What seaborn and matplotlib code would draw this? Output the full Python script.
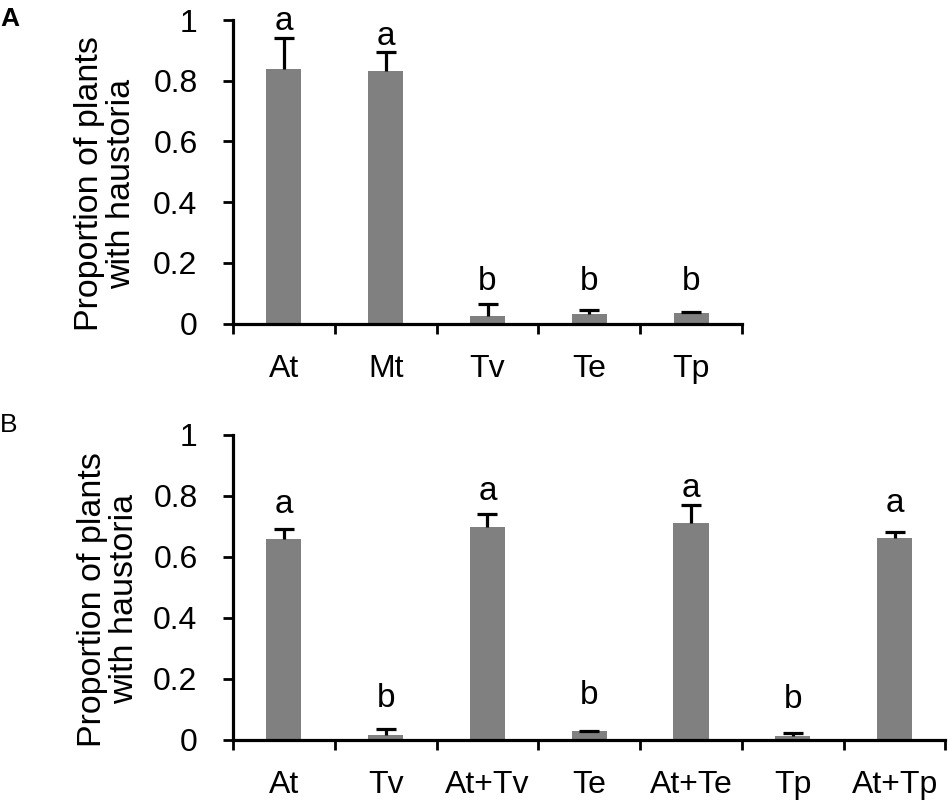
import numpy as np
import pandas as pd
import matplotlib
matplotlib.use("Agg")
import matplotlib.pyplot as plt
import seaborn as sns
from matplotlib.ticker import FixedLocator, FixedFormatter

sns.set_style("ticks")
plt.rcParams['font.family'] = ['Liberation Sans', 'DejaVu Sans']
plt.rcParams.update({"text.color": "black", "axes.labelcolor": "black",
                     "xtick.color": "black", "ytick.color": "black",
                     "axes.edgecolor": "black"})

# ---- data ----
cats_a = ["At", "Mt", "Tv", "Te", "Tp"]
vals_a = [0.84, 0.832, 0.026, 0.030, 0.033]
errtop_a = [0.94, 0.893, 0.063, 0.043, 0.037]
letters_a = ["a", "a", "b", "b", "b"]
letter_y_a = [0.967, 0.917, 0.112, 0.112, 0.112]

cats_b = ["At", "Tv", "At+Tv", "Te", "At+Te", "Tp", "At+Tp"]
vals_b = [0.658, 0.016, 0.699, 0.028, 0.712, 0.012, 0.661]
errtop_b = [0.691, 0.036, 0.740, 0.029, 0.771, 0.020, 0.681]
letters_b = ["a", "b", "a", "b", "a", "b", "a"]
letter_y_b = [0.744, 0.107, 0.787, 0.118, 0.798, 0.102, 0.747]

yticks = [0, 0.2, 0.4, 0.6, 0.8, 1]
ytick_labels = ["0", "0.2", "0.4", "0.6", "0.8", "1"]
ylabel = "Proportion of plants\nwith haustoria"

BAR = "#808080"
FS = 23

W, H = 948, 806
fig = plt.figure(figsize=(W / 100, H / 100), dpi=100)

def px_axes(l, r, top, bottom):
    return fig.add_axes([l / W, 1 - bottom / H, (r - l) / W, (bottom - top) / H])

ax_a = px_axes(233, 742, 20, 323.5)
ax_b = px_axes(233, 945.5, 435, 739.5)

def draw(ax, cats, vals, errtop, letters, letter_y, label_x):
    df = pd.DataFrame({"cat": cats, "val": vals})
    sns.barplot(data=df, x="cat", y="val", order=cats, color=BAR, width=0.345,
                saturation=1, ax=ax, errorbar=None, edgecolor="none")
    x = np.arange(len(cats))
    up = np.array(errtop) - np.array(vals)
    _, caps, _ = ax.errorbar(x, vals, yerr=[np.zeros(len(cats)), up], fmt="none",
                             ecolor="black", elinewidth=2.3, capsize=7.2,
                             capthick=2.3, zorder=3)
    # keep only the upper cap
    if len(caps) == 2:
        caps[0].set_visible(False)
    for xi, lt, ly in zip(x, letters, letter_y):
        ax.text(xi, ly, lt, ha="center", va="baseline", fontsize=FS + 1, color="black")
    n = len(cats)
    ax.set_xlim(-0.5, n - 0.5)
    ax.set_ylim(0, 1)
    ax.yaxis.set_major_locator(FixedLocator(yticks))
    ax.yaxis.set_major_formatter(FixedFormatter(ytick_labels))
    ax.set_xticks(x)
    ax.set_xticklabels(cats)
    ax.xaxis.set_minor_locator(FixedLocator(np.arange(n + 1) - 0.5))
    ax.tick_params(axis="x", which="major", length=0, pad=22, labelsize=FS,
                   labelcolor="black")
    ax.tick_params(axis="x", which="minor", length=7.5, width=2.0, direction="out",
                   color="black")
    ax.tick_params(axis="y", which="major", length=7.5, width=2.0, direction="out",
                   pad=18, labelsize=FS, color="black", labelcolor="black")
    for s in ["top", "right"]:
        ax.spines[s].set_visible(False)
    for s in ["left", "bottom"]:
        ax.spines[s].set_linewidth(2.3)
        ax.spines[s].set_color("black")
    ax.set_xlabel("")
    ax.set_ylabel(ylabel, fontsize=FS + 1.5, linespacing=1.05, color="black")
    ax.yaxis.set_label_coords(label_x, 0.46)
    ax.set_facecolor("white")

draw(ax_a, cats_a, vals_a, errtop_a, letters_a, letter_y_a, (137 - 233) / 509)
draw(ax_b, cats_b, vals_b, errtop_b, letters_b, letter_y_b, (140 - 233) / 712.5)

fig.text(0 / W, 1 - 26 / H, "A", fontsize=19, fontweight="bold", ha="left",
         va="baseline", color="black")
fig.text(0 / W, 1 - 432 / H, "B", fontsize=19, ha="left", va="baseline",
         color="black")

fig.savefig("out.png", dpi=100, facecolor="white")
